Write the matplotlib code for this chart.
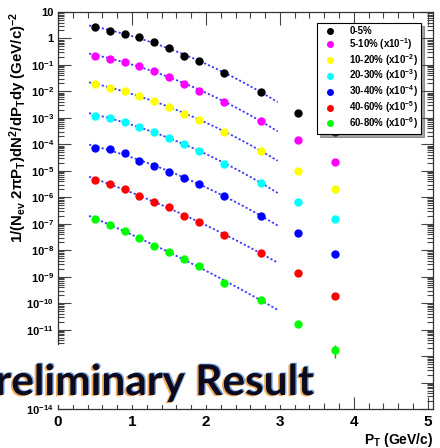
import numpy as np
import matplotlib
matplotlib.use("Agg")
import matplotlib.pyplot as plt
import matplotlib.ticker as mticker
import matplotlib.patheffects as pe
from matplotlib.patches import Rectangle

plt.rcParams['font.family'] = ['Liberation Sans', 'DejaVu Sans']
plt.rcParams['font.weight'] = 'bold'
plt.rcParams['mathtext.fontset'] = 'custom'
plt.rcParams['mathtext.rm'] = 'Liberation Sans:bold'
plt.rcParams['mathtext.it'] = 'Liberation Sans:bold'
plt.rcParams['mathtext.bf'] = 'Liberation Sans:bold'

# pT bins (GeV/c)
pt = [0.5, 0.7, 0.9, 1.1, 1.3, 1.5, 1.7, 1.9, 2.25, 2.75, 3.25, 3.75]

# spectra as plotted (already scaled per centrality)
c0_5 = [2.8, 1.9, 1.44, 1.1, 0.72, 0.45, 0.22, 0.14, 0.049, 9.5e-3, 1.5e-3, 3.0e-4]
c5_10 = [0.224, 0.168, 0.133, 0.0916, 0.061, 0.0361, 0.0187, 0.0107, 3.9e-3, 7.7e-4, 1.48e-4, 2.1e-5]
c10_20 = [1.87e-2, 1.32e-2, 1.07e-2, 6.8e-3, 4.5e-3, 2.67e-3, 1.38e-3, 8.4e-4, 3.0e-4, 5.7e-5, 1.02e-5, 2.0e-6]
c20_30 = [1.19e-3, 1.02e-3, 7.2e-4, 4.5e-4, 2.9e-4, 1.71e-4, 1.02e-4, 5.4e-5, 1.84e-5, 3.6e-6, 6.4e-7, 1.55e-7]
c30_40 = [7.2e-5, 6.6e-5, 4.7e-5, 2.45e-5, 1.58e-5, 9.3e-6, 5.3e-6, 3.2e-6, 1.07e-6, 2.0e-7, 4.5e-8, 7.2e-9]
c40_60 = [4.6e-6, 3.2e-6, 2.0e-6, 1.15e-6, 6.9e-7, 4.3e-7, 2.0e-7, 1.12e-7, 3.7e-8, 7.8e-9, 1.38e-9, 1.8e-10]
c60_80 = [1.55e-7, 9.1e-8, 5.1e-8, 3.0e-8, 1.5e-8, 8.7e-9, 4.7e-9, 2.45e-9, 5.8e-10, 1.35e-10, 1.66e-11, 1.66e-12]

series = [c0_5, c5_10, c10_20, c20_30, c30_40, c40_60, c60_80]
labels = ['0-5%', '5-10% (x10$^{-1}$)', '10-20% (x10$^{-2}$)', '20-30% (x10$^{-3}$)',
          '30-40% (x10$^{-4}$)', '40-60% (x10$^{-5}$)', '60-80% (x10$^{-6}$)']
colors = ['black', '#ff00ff', '#ffff00', '#00ffff', '#0000ff', '#ff0000', '#00ff00']

# error on the last 60-80% point (down, up)
last_err = [7.9e-13, 1.0e-12]

fit_range = (0.42, 2.97)
n_fit = 10  # fit uses points up to 2.75 GeV/c

fig = plt.figure(figsize=(4.4, 4.48), dpi=100)
ax = fig.add_axes([58 / 440, 1 - 409 / 448, 375 / 440, 397 / 448])

pt_arr = np.array(pt)
xf = np.linspace(fit_range[0], fit_range[1], 60)
for vals, lab, col in zip(series, labels, colors):
    v = np.array(vals)
    coef = np.polyfit(pt_arr[:n_fit], np.log10(v[:n_fit]), 2)
    ax.plot(xf, 10 ** np.polyval(coef, xf), color='#3a3aff', lw=1.3,
            linestyle=(0, (1.2, 1.2)), zorder=2)
    ax.plot(pt_arr, v, 'o', color=col, ms=5, mec=col, label=lab, zorder=3)

ax.errorbar([pt[-1]], [c60_80[-1]], yerr=[[last_err[0]], [last_err[1]]],
            fmt='none', ecolor='#00aa00', elinewidth=1, zorder=2)

ax.set_yscale('log')
ax.set_xlim(0, 5.07)
ax.set_ylim(1e-14, 10)

ax.xaxis.set_major_locator(mticker.MultipleLocator(1))
ax.xaxis.set_minor_locator(mticker.MultipleLocator(0.2))
ax.yaxis.set_major_locator(mticker.LogLocator(base=10, numticks=30))
ax.yaxis.set_minor_locator(mticker.LogLocator(base=10, subs=np.arange(2, 10), numticks=30))
ax.yaxis.set_minor_formatter(mticker.NullFormatter())


def ylab(v, pos):
    e = int(round(np.log10(v)))
    if e == 1:
        return '10'
    if e == 0:
        return '1'
    if e in (-12, -13):
        return ''  # hidden under the watermark in the original
    return '$10^{%d}$' % e


ax.yaxis.set_major_formatter(mticker.FuncFormatter(ylab))
ax.tick_params(which='both', direction='in', top=True, right=True, width=0.8, color='#444444')
ax.tick_params(which='major', length=9)
ax.tick_params(which='minor', length=4.5)
ax.tick_params(axis='x', labelsize=11, pad=4)
ax.tick_params(axis='y', labelsize=8, pad=3)
for s in ax.spines.values():
    s.set_linewidth(0.9)
    s.set_color('#333333')

ax.set_xlabel('P$_T$ (GeV/c)', fontsize=10, fontweight='bold', ha='right')
ax.xaxis.set_label_coords(1.0, -0.055)
ax.set_ylabel('1/(N$_{ev}$ 2πP$_T$)dN$^2$/dP$_T$dy (GeV/c)$^{-2}$', fontsize=10.8, fontweight='bold')
ax.yaxis.set_label_coords(-0.078, 0.708)

leg = ax.legend(loc='upper right', bbox_to_anchor=(0.968, 0.972), fontsize=7.0,
                frameon=True, fancybox=False, shadow=True, edgecolor='black',
                markerscale=0.8, handletextpad=1.0, borderpad=0.3, labelspacing=0.0,
                handlelength=2.0, borderaxespad=0)
leg.get_frame().set_linewidth(0.8)

# white band behind the watermark text
fig.add_artist(Rectangle((0, 1 - 405 / 448), 322 / 440, 60 / 448, transform=fig.transFigure,
                         facecolor='white', edgecolor='none', zorder=5))
fig.text(-0.07, 1 - 395 / 448, 'Preliminary Result', fontsize=30.5, family=['Lato', 'DejaVu Sans'],
         fontweight='bold', color='#0a0a20', va='baseline', ha='left', zorder=6,
         path_effects=[pe.SimplePatchShadow(offset=(-1.3, -0.8), shadow_rgbFace='#f0a040', alpha=0.9),
                       pe.SimplePatchShadow(offset=(1.0, 0.6), shadow_rgbFace='#4080e0', alpha=0.7),
                       pe.Normal()])

fig.savefig('out.png', dpi=100)
